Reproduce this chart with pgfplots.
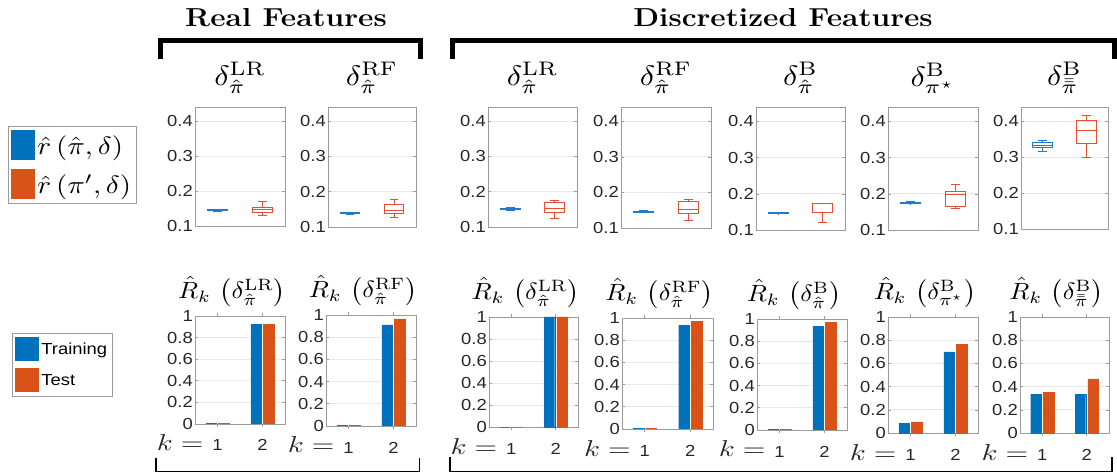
\documentclass[border=0pt]{standalone}
\usepackage{fontspec}
\usepackage{graphicx}
\usepackage{pgfplots}
\pgfplotsset{compat=1.18}
\usepgfplotslibrary{statistics}
\newfontfamily\hv[FakeStretch=1.15]{Liberation Sans}
\definecolor{barblue}{RGB}{0,114,189}
\definecolor{barred}{RGB}{217,83,25}
\definecolor{bxblue}{RGB}{38,120,205}
\definecolor{bxred}{RGB}{228,78,52}
\definecolor{axgray}{RGB}{155,155,155}
\definecolor{gridgray}{RGB}{232,232,232}
\definecolor{txtgray}{RGB}{38,38,38}
\newcommand\tickfont{\hv\fontsize{16}{16}\selectfont}
\newcommand\ttl[1]{{\normalsize\scalebox{3.2}[2.8]{$#1$}}}
\newcommand\btl[1]{{\normalsize\scalebox{2.62}[2.35]{$#1$}}}
\newcommand\klab{\llap{\smash{\normalsize\scalebox{2.9}[2.3]{$k=$}}\hspace{9pt}}}
\pgfplotsset{
  common/.style={scale only axis, anchor=south west,
    axis line style={draw=axgray, line width=0.8pt},
    every tick/.style={draw=axgray, line width=0.6pt},
    major tick length=3pt, tick align=inside,
    ymajorgrids, major grid style={draw=gridgray, line width=0.7pt},
    yticklabel style={font=\tickfont, text=txtgray, inner sep=2pt},
    xticklabel style={font=\tickfont, text=txtgray},
    /pgf/number format/assume math mode=true,
    xmin=0.5, xmax=2.5,
    title style={at={(0.5,1)}, anchor=south, inner sep=0pt, yshift=7pt}},
  boxax/.style={common, boxplot/draw direction=y, ymin=0.1, ymax=0.44, ytick={0.1,0.2,0.3,0.4}, xtick=\empty,
    yticklabel style={/pgf/number format/.cd, fixed, fixed zerofill, precision=1}},
  barax/.style={common, ybar, bar width=10.5pt, ymin=0, ymax=1,
    ytick={0,0.2,0.4,0.6,0.8,1},
    yticklabels={0,0.2,0.4,0.6,0.8,1},
    xtick={1,2},
    xticklabels={{\klab 1},2},
    xticklabel style={anchor=base, inner sep=0pt, yshift=-24pt},
    title style={xshift=-8pt, yshift=-4pt}},
  bxb/.style={bxblue, line width=1pt},
  bxr/.style={bxred, line width=1pt},
  bb/.style={fill=barblue, draw=barblue, bar shift=-6.3pt},
  br/.style={fill=barred, draw=barred, bar shift=6.3pt},
}
\begin{document}
\begin{tikzpicture}[x=1pt,y=1pt]
\useasboundingbox (0,0) rectangle (1117,474);
% headers and brackets
\node[anchor=base] at (286,447) {\scalebox{1.15}[1]{\fontsize{26}{30}\selectfont\bfseries Real Features}};
\node[anchor=base] at (783,447) {\scalebox{1.15}[1]{\fontsize{26}{30}\selectfont\bfseries Discretized Features}};
\draw[line width=5pt, line cap=butt, line join=miter] (160.5,415) -- (160.5,433.5) -- (420.5,433.5) -- (420.5,415);
\draw[line width=5pt, line cap=butt, line join=miter] (452.5,415) -- (452.5,433.5) -- (1114,433.5) -- (1114,415);
\draw[line width=1.8pt, line join=miter] (156,16) -- (156,2.5) -- (419.5,2.5) -- (419.5,16);
\draw[line width=1.8pt, line join=miter] (450,17) -- (450,2.5) -- (1112,2.5) -- (1112,17);

% ---------------- top row: box plots ----------------
\begin{axis}[boxax, at={(195pt,248pt)}, width=90pt, height=119pt,
  title={\ttl{\delta^{\mathrm{LR}}_{\hat{\pi}}}},
  legend style={at={(-2.078,0.84)}, anchor=north west, draw=axgray, line width=0.8pt,
    fill=white, inner xsep=3pt, inner ysep=4pt, row sep=9pt,
    /tikz/every even column/.append style={column sep=3pt}},
  legend cell align=left,
  legend image code/.code={\fill[#1, draw=none] (0pt,-15pt) rectangle (24pt,15pt);}]
\addlegendimage{fill=barblue}
\addlegendentry{{\normalsize\scalebox{2.9}[2.5]{$\hat{r}\left(\hat{\pi},\delta\right)$}}}
\addlegendimage{fill=barred}
\addlegendentry{{\normalsize\scalebox{2.9}[2.5]{$\hat{r}\left(\pi',\delta\right)$}}}
\addplot[bxb, boxplot prepared={draw position=1, median=0.145, lower quartile=0.1435, upper quartile=0.1465, lower whisker=0.142, upper whisker=0.147, box extend=0.45, whisker extend=0.2}] coordinates {};
\addplot[bxr, boxplot prepared={draw position=2, median=0.146, lower quartile=0.138, upper quartile=0.154, lower whisker=0.129, upper whisker=0.169, box extend=0.45, whisker extend=0.2}] coordinates {};
\end{axis}

\begin{axis}[boxax, at={(328pt,247pt)}, width=88pt, height=120pt,
  title={\ttl{\delta^{\mathrm{RF}}_{\hat{\pi}}}}]
\addplot[bxb, boxplot prepared={draw position=1, median=0.139, lower quartile=0.1375, upper quartile=0.1405, lower whisker=0.136, upper whisker=0.142, box extend=0.45, whisker extend=0.2}] coordinates {};
\addplot[bxr, boxplot prepared={draw position=2, median=0.148, lower quartile=0.139, upper quartile=0.165, lower whisker=0.127, upper whisker=0.178, box extend=0.45, whisker extend=0.2}] coordinates {};
\end{axis}

\begin{axis}[boxax, at={(488pt,247pt)}, width=89pt, height=120pt,
  title={\ttl{\delta^{\mathrm{LR}}_{\hat{\pi}}}}]
\addplot[bxb, boxplot prepared={draw position=1, median=0.151, lower quartile=0.1495, upper quartile=0.1525, lower whisker=0.148, upper whisker=0.154, box extend=0.45, whisker extend=0.2}] coordinates {};
\addplot[bxr, boxplot prepared={draw position=2, median=0.153, lower quartile=0.141, upper quartile=0.169, lower whisker=0.125, upper whisker=0.174, box extend=0.45, whisker extend=0.2}] coordinates {};
\end{axis}

\begin{axis}[boxax, at={(621pt,246pt)}, width=90pt, height=121pt,
  title={\ttl{\delta^{\mathrm{RF}}_{\hat{\pi}}}}]
\addplot[bxb, boxplot prepared={draw position=1, median=0.146, lower quartile=0.1445, upper quartile=0.1475, lower whisker=0.143, upper whisker=0.149, box extend=0.45, whisker extend=0.2}] coordinates {};
\addplot[bxr, boxplot prepared={draw position=2, median=0.151, lower quartile=0.142, upper quartile=0.174, lower whisker=0.120, upper whisker=0.180, box extend=0.45, whisker extend=0.2}] coordinates {};
\end{axis}

\begin{axis}[boxax, at={(756pt,244pt)}, width=89pt, height=123pt,
  title={\ttl{\delta^{\mathrm{B}}_{\hat{\pi}}}}]
\addplot[bxb, boxplot prepared={draw position=1, median=0.147, lower quartile=0.1455, upper quartile=0.1485, lower whisker=0.145, upper whisker=0.149, box extend=0.45, whisker extend=0.2}] coordinates {};
\addplot[bxr, boxplot prepared={draw position=2, median=0.148, lower quartile=0.148, upper quartile=0.174, lower whisker=0.122, upper whisker=0.174, box extend=0.45, whisker extend=0.2}] coordinates {};
\end{axis}

\begin{axis}[boxax, at={(888pt,244pt)}, width=90pt, height=123pt,
  title={\ttl{\delta^{\mathrm{B}}_{\pi^{\star}}}}]
\addplot[bxb, boxplot prepared={draw position=1, median=0.175, lower quartile=0.173, upper quartile=0.177, lower whisker=0.172, upper whisker=0.178, box extend=0.45, whisker extend=0.2}] coordinates {};
\addplot[bxr, boxplot prepared={draw position=2, median=0.199, lower quartile=0.166, upper quartile=0.207, lower whisker=0.160, upper whisker=0.227, box extend=0.45, whisker extend=0.2}] coordinates {};
\end{axis}

\begin{axis}[boxax, at={(1021pt,245pt)}, width=87pt, height=122pt,
  title={\ttl{\delta^{\mathrm{B}}_{\bar{\bar{\pi}}}}}]
\addplot[bxb, boxplot prepared={draw position=1, median=0.334, lower quartile=0.328, upper quartile=0.340, lower whisker=0.317, upper whisker=0.348, box extend=0.45, whisker extend=0.2}] coordinates {};
\addplot[bxr, boxplot prepared={draw position=2, median=0.375, lower quartile=0.338, upper quartile=0.403, lower whisker=0.300, upper whisker=0.417, box extend=0.45, whisker extend=0.2}] coordinates {};
\end{axis}

% ---------------- bottom row: bar charts ----------------
\begin{axis}[barax, at={(195pt,50pt)}, width=90pt, height=108pt,
  title={\btl{\hat{R}_k\,\left(\delta^{\mathrm{LR}}_{\hat{\pi}}\right)}},
  legend style={at={(-2.033,0.843)}, anchor=north west, draw=axgray, line width=0.8pt,
    fill=white, inner xsep=3pt, inner ysep=4pt, row sep=7pt,
    font=\hv\fontsize{16}{18}\selectfont,
    /tikz/every even column/.append style={column sep=2pt}},
  legend cell align=left,
  legend image code/.code={\fill[#1, draw=none] (0pt,-12pt) rectangle (24pt,12pt);}]
\addlegendimage{fill=barblue}
\addlegendentry{Training}
\addlegendimage{fill=barred}
\addlegendentry{Test}
\addplot[bb] coordinates {(1,0.005) (2,0.92)};
\addplot[br] coordinates {(1,0.008) (2,0.92)};
\end{axis}

\begin{axis}[barax, at={(326pt,48pt)}, width=90pt, height=111pt,
  title={\btl{\hat{R}_k\,\left(\delta^{\mathrm{RF}}_{\hat{\pi}}\right)}}]
\addplot[bb] coordinates {(1,0.003) (2,0.91)};
\addplot[br] coordinates {(1,0.008) (2,0.965)};
\end{axis}

\begin{axis}[barax, at={(489pt,47pt)}, width=89pt, height=110pt,
  title={\btl{\hat{R}_k\,\left(\delta^{\mathrm{LR}}_{\hat{\pi}}\right)}}]
\addplot[bb] coordinates {(1,0) (2,1.0)};
\addplot[br] coordinates {(1,0) (2,1.0)};
\end{axis}

\begin{axis}[barax, at={(622pt,45pt)}, width=91pt, height=111pt,
  title={\btl{\hat{R}_k\,\left(\delta^{\mathrm{RF}}_{\hat{\pi}}\right)}}]
\addplot[bb] coordinates {(1,0.008) (2,0.934)};
\addplot[br] coordinates {(1,0.008) (2,0.97)};
\end{axis}

\begin{axis}[barax, at={(757pt,44pt)}, width=90pt, height=111pt,
  title={\btl{\hat{R}_k\,\left(\delta^{\mathrm{B}}_{\hat{\pi}}\right)}}]
\addplot[bb] coordinates {(1,0.005) (2,0.934)};
\addplot[br] coordinates {(1,0.008) (2,0.967)};
\end{axis}

\begin{axis}[barax, at={(888pt,41pt)}, width=90pt, height=116pt,
  title={\btl{\hat{R}_k\,\left(\delta^{\mathrm{B}}_{\pi^{\star}}\right)}}]
\addplot[bb] coordinates {(1,0.083) (2,0.70)};
\addplot[br] coordinates {(1,0.095) (2,0.767)};
\end{axis}

\begin{axis}[barax, at={(1020pt,41pt)}, width=89pt, height=116pt,
  title={\btl{\hat{R}_k\,\left(\delta^{\mathrm{B}}_{\bar{\bar{\pi}}}\right)}}]
\addplot[bb] coordinates {(1,0.336) (2,0.333)};
\addplot[br] coordinates {(1,0.353) (2,0.466)};
\end{axis}
\end{tikzpicture}
\end{document}
